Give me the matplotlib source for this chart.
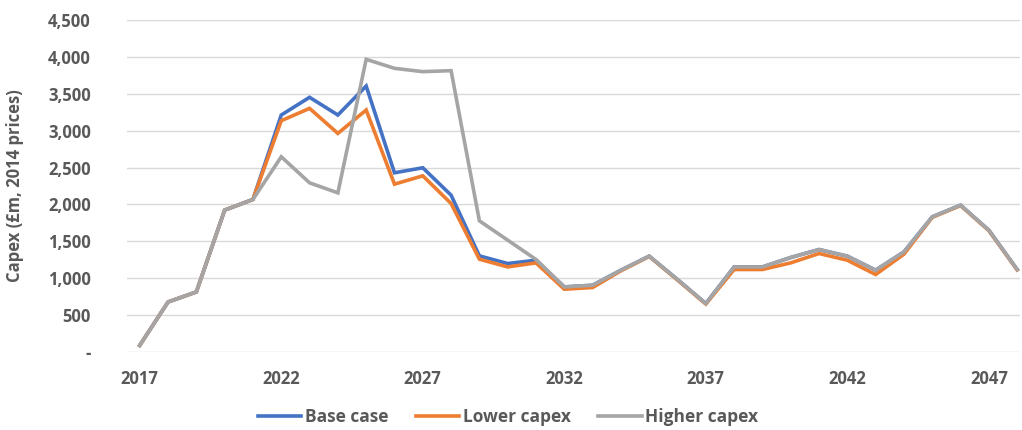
import matplotlib.pyplot as plt
from matplotlib.ticker import FuncFormatter

years = list(range(2017, 2049))

base_case = [90, 678, 814, 1923, 2068, 3212, 3452, 3212, 3605, 2429, 2497, 2126,
             1303, 1199, 1244, 882, 905, 1109, 1299, 982, 657, 1153, 1153, 1281,
             1389, 1299, 1109, 1357, 1832, 1990, 1651, 1118]
lower_capex = [90, 678, 814, 1923, 2068, 3135, 3302, 2963, 3280, 2275, 2388, 2013,
               1258, 1153, 1208, 851, 874, 1100, 1295, 975, 650, 1118, 1118, 1208,
               1335, 1244, 1050, 1326, 1825, 1985, 1645, 1112]
higher_capex = [90, 678, 814, 1923, 2068, 2646, 2293, 2157, 3967, 3845, 3800, 3813,
                1778, 1516, 1254, 882, 905, 1109, 1299, 982, 657, 1153, 1153, 1281,
                1389, 1299, 1109, 1357, 1832, 1990, 1651, 1118]

series_names = ["Base case", "Lower capex", "Higher capex"]
colors = ["#4472C4", "#ED7D31", "#A5A5A5"]
xtick_years = [2017, 2022, 2027, 2032, 2037, 2042, 2047]
yticks = list(range(0, 4501, 500))

plt.rcParams['font.family'] = ['Open Sans', 'DejaVu Sans']
text_col = "#595959"

fig = plt.figure(figsize=(10.22, 4.30), dpi=100)
ax = fig.add_axes([127/1022, 1 - 352/430, (1020 - 127)/1022, (352 - 20)/430])

for vals, name, c in zip([base_case, lower_capex, higher_capex], series_names, colors):
    ax.plot(years, vals, color=c, lw=2.6, label=name, solid_joinstyle='miter')

ax.set_xlim(2016.55, 2048.1)
ax.set_ylim(0, 4500)
ax.set_yticks(yticks)
ax.yaxis.set_major_formatter(FuncFormatter(lambda v, p: "-" if v == 0 else f"{int(v):,}"))
ax.set_xticks(xtick_years)
ax.grid(axis='y', color='#D9D9D9', lw=1)
ax.set_axisbelow(True)
for s in ax.spines.values():
    s.set_visible(False)
ax.tick_params(length=0, labelsize=12, labelcolor=text_col)
ax.tick_params(axis='x', pad=13)
ax.tick_params(axis='y', pad=26)
for lab in ax.get_xticklabels() + ax.get_yticklabels():
    lab.set_fontweight('bold')

ax.set_ylabel("Capex (£m, 2014 prices)", fontsize=12, fontweight='bold', color=text_col)
ax.yaxis.set_label_coords(-0.115, 0.5)

leg = fig.legend(loc='center', bbox_to_anchor=(0.497, 1 - 417/430), ncol=3, frameon=False,
                 prop={'size': 12.5, 'weight': 'bold'}, handlelength=2.5, handletextpad=0.2,
                 columnspacing=1.6)
for t in leg.get_texts():
    t.set_color(text_col)

fig.savefig("out.png", dpi=100)
